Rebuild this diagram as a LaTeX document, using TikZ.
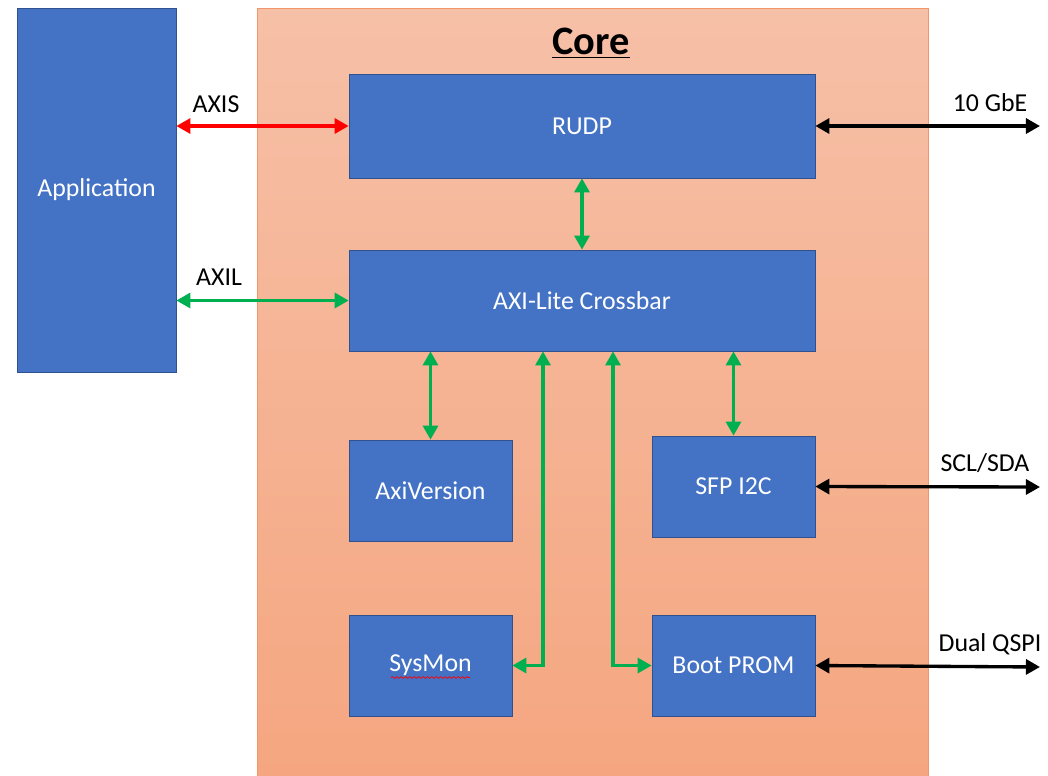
\documentclass[tikz,border=0pt]{standalone}
\usepackage{fontspec}
\setmainfont{Carlito}
\usetikzlibrary{arrows.meta,decorations.pathmorphing}

\definecolor{boxblue}{RGB}{68,114,196}
\definecolor{boxedge}{RGB}{47,82,143}
\definecolor{linkgreen}{RGB}{0,176,80}
\definecolor{coretop}{RGB}{246,192,167}
\definecolor{corebot}{RGB}{245,166,128}
\definecolor{coreedge}{RGB}{240,150,105}

\begin{document}
\begin{tikzpicture}[
    x=0.02cm, y=-0.02cm,
    font=\fontsize{14.7}{16}\selectfont,
    block/.style={rectangle, draw=boxedge, fill=boxblue, text=white, inner sep=0pt},
    small/.style={block, minimum width=3.26cm, minimum height=2.02cm},
    wide/.style={block, minimum width=9.32cm},
    link/.style={line width=1.9pt, {Triangle[length=8pt,width=8.5pt]}-{Triangle[length=8pt,width=8.5pt]}},
    lbl/.style={inner sep=0pt}
]
\useasboundingbox (0,0) rectangle (1048,775);

% core area
\node[rectangle, draw=coreedge, top color=coretop, bottom color=corebot,
      minimum width=13.42cm, minimum height=15.4cm, inner sep=0pt] (core) at (592.5,393) {};
\node[lbl, font=\fontsize{23}{26}\selectfont\bfseries] (title) at (591,43) {\underline{Core}};

% blocks
\node[block, minimum width=3.18cm, minimum height=7.28cm] (app) at (96.5,190) {Application};
\node[wide, minimum height=2.08cm] (rudp) at (582,126) {RUDP};
\node[wide, minimum height=2.02cm] (xbar) at (582,300.5) {AXI-Lite Crossbar};
\node[small] (axiver) at (430.5,490.5) {AxiVersion};
\node[small] (sfp) at (733.5,486.5) {SFP I2C};
\node[small] (sysmon) at (430.5,665.5) {SysMon};
\node[small] (bootprom) at (733.5,665.5) {Boot PROM};

% spell check mark
\draw[red, line width=0.4pt, decoration={snake, amplitude=0.5pt, segment length=2.5pt}, decorate]
    (391,677.5) -- (470,677.5);

% outside ends
\coordinate (gbe) at (1040,126);
\coordinate (i2c) at (1040,487);
\coordinate (qspi) at (1040,667);

% links
\draw[link, red] (app.east |- rudp.west) -- (rudp.west);
\draw[link, linkgreen] (app.east |- xbar.west) -- (xbar.west);
\draw[link, linkgreen] (rudp.south) -- (xbar.north);
\draw[link, linkgreen] (xbar.south -| axiver.north) -- (axiver.north);
\draw[link, linkgreen] (xbar.south -| sfp.north) -- (sfp.north);
\draw[link, linkgreen] ([xshift=-0.78cm]xbar.south) |- (sysmon.east);
\draw[link, linkgreen] ([xshift=0.62cm]xbar.south) |- (bootprom.west);
\draw[link, black] (rudp.east) -- (gbe);
\draw[link, black] (sfp.east) -- (i2c);
\draw[link, black] (bootprom.east) -- (qspi);

% labels
\node[lbl] (axislbl) at (216,104) {AXIS};
\node[lbl] (axillbl) at (219,277) {AXIL};
\node[lbl] (gbelbl) at (990,103) {10 GbE};
\node[lbl] (i2clbl) at (985,463) {SCL/SDA};
\node[lbl] (qspilbl) at (990,644) {Dual QSPI};
\end{tikzpicture}
\end{document}
